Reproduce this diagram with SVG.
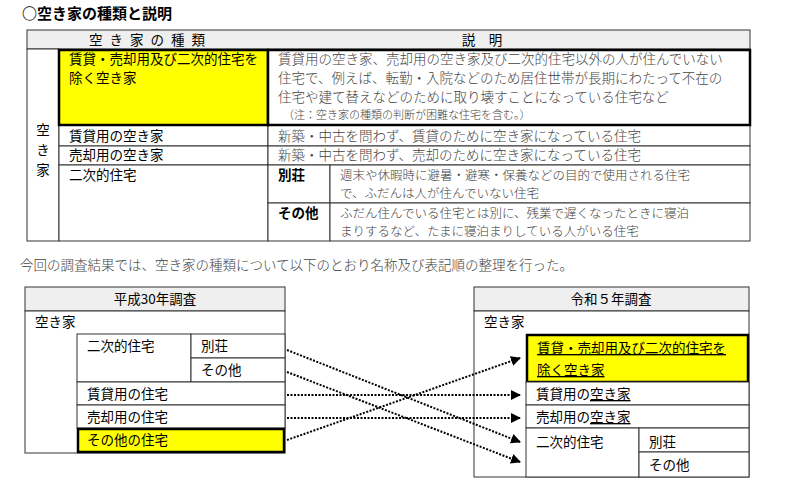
<svg xmlns="http://www.w3.org/2000/svg" width="800" height="479" viewBox="0 0 800 479">
<style>
text{font-family:"Noto Sans CJK JP",sans-serif;font-size:13.5px;fill:#000}
.d{fill:#444;font-weight:300}
.t{font-size:12.5px}
.s{font-size:11px}
.c{stroke:#333;stroke-width:1;fill:#fff}
.h{stroke:#333;stroke-width:1;fill:#efefef}
.y{stroke:#000;stroke-width:2.5;fill:#ff0}
.dot{stroke:#000;stroke-width:2;stroke-dasharray:2 1.5;fill:none}
.u{text-decoration:underline}
</style>
<defs><marker id="a" markerWidth="10" markerHeight="10" refX="9" refY="5" orient="auto" markerUnits="userSpaceOnUse"><path d="M0,0 L10,5 L0,10Z" fill="#000"/></marker></defs>
<text x="22" y="19" style="font-size:15px;font-weight:bold">○空き家の種類と説明</text>
<g id="top">
<rect class="h" x="27" y="30" width="723" height="19"/>
<text x="89" y="45" letter-spacing="7">空き家の種類</text>
<text x="482" y="45" text-anchor="middle">説　明</text>
<rect class="c" x="27" y="49" width="32" height="192"/>
<text x="43" y="135" text-anchor="middle">空</text><text x="43" y="155" text-anchor="middle">き</text><text x="43" y="175" text-anchor="middle">家</text>
<rect class="c" x="59" y="125" width="209" height="21"/><rect class="c" x="268" y="125" width="482" height="21"/>
<rect class="c" x="59" y="146" width="209" height="19"/><rect class="c" x="268" y="146" width="482" height="19"/>
<rect class="c" x="59" y="165" width="209" height="76"/>
<rect class="c" x="268" y="165" width="62" height="38"/><rect class="c" x="330" y="165" width="420" height="38"/>
<rect class="c" x="268" y="203" width="62" height="38"/><rect class="c" x="330" y="203" width="420" height="38"/>
<rect class="y" x="59" y="50" width="209" height="75"/>
<rect x="268" y="50" width="482" height="75" fill="#fff" stroke="#000" stroke-width="2.5"/>
<text x="69" y="64">賃貸・売却用及び二次的住宅を</text><text x="69" y="83">除く空き家</text>
<text class="d" x="278" y="64">賃貸用の空き家、売却用の空き家及び二次的住宅以外の人が住んでいない</text>
<text class="d" x="278" y="83">住宅で、例えば、転勤・入院などのため居住世帯が長期にわたって不在の</text>
<text class="d" x="278" y="102">住宅や建て替えなどのために取り壊すことになっている住宅など</text>
<text class="d s" x="283" y="119">（注：空き家の種類の判断が困難な住宅を含む。）</text>
<text x="69" y="141">賃貸用の空き家</text><text class="d" x="278" y="141">新築・中古を問わず、賃貸のために空き家になっている住宅</text>
<text x="69" y="160">売却用の空き家</text><text class="d" x="278" y="160">新築・中古を問わず、売却のために空き家になっている住宅</text>
<text x="69" y="180">二次的住宅</text>
<text x="278" y="180" font-weight="bold">別荘</text><text x="278" y="218" font-weight="bold">その他</text>
<text class="d t" x="340" y="180">週末や休暇時に避暑・避寒・保養などの目的で使用される住宅</text>
<text class="d t" x="340" y="198">で、ふだんは人が住んでいない住宅</text>
<text class="d t" x="340" y="218">ふだん住んでいる住宅とは別に、残業で遅くなったときに寝泊</text>
<text class="d t" x="340" y="236">まりするなど、たまに寝泊まりしている人がいる住宅</text>
</g>
<text class="d" x="20" y="270">今回の調査結果では、空き家の種類について以下のとおり名称及び表記順の整理を行った。</text>
<g id="h30">
<rect class="h" x="25" y="287" width="260" height="24"/><text x="155" y="304" text-anchor="middle">平成30年調査</text>
<rect class="c" x="25" y="311" width="260" height="142"/><text x="35" y="327">空き家</text>
<rect class="c" x="77" y="334" width="114" height="48"/><text x="87" y="351">二次的住宅</text>
<rect class="c" x="191" y="334" width="94" height="24"/><text x="201" y="351">別荘</text>
<rect class="c" x="191" y="358" width="94" height="24"/><text x="201" y="375">その他</text>
<rect class="c" x="77" y="382" width="208" height="23"/><text x="87" y="399">賃貸用の住宅</text>
<rect class="c" x="77" y="405" width="208" height="23"/><text x="87" y="422">売却用の住宅</text>
<rect class="y" x="78" y="429" width="206" height="23" stroke-width="2"/><text x="87" y="445">その他の住宅</text>
</g>
<g id="r5">
<rect class="h" x="474" y="287" width="275" height="24"/><text x="611" y="304" text-anchor="middle">令和５年調査</text>
<rect class="c" x="474" y="311" width="275" height="166"/><text x="484" y="327">空き家</text>
<rect class="y" x="527" y="335" width="221" height="47" stroke-width="2"/>
<text class="u" x="537" y="353">賃貸・売却用及び二次的住宅を</text><text class="u" x="537" y="375">除く空き家</text>
<rect class="c" x="526" y="382" width="223" height="23"/><text x="536" y="399">賃貸用の<tspan class="u">空き家</tspan></text>
<rect class="c" x="526" y="405" width="223" height="23"/><text x="536" y="422">売却用の<tspan class="u">空き家</tspan></text>
<rect class="c" x="526" y="428" width="113" height="49"/><text x="536" y="447">二次的住宅</text>
<rect class="c" x="639" y="428" width="110" height="24"/><text x="649" y="447">別荘</text>
<rect class="c" x="639" y="452" width="110" height="25"/><text x="649" y="470">その他</text>
</g>
<g id="connectors">
<path class="dot" d="M287,350 L520,442" marker-end="url(#a)"/>
<path class="dot" d="M287,372 L520,462" marker-end="url(#a)"/>
<path class="dot" d="M287,395 L520,395" marker-end="url(#a)"/>
<path class="dot" d="M287,418 L520,418" marker-end="url(#a)"/>
<path class="dot" d="M287,440 L520,358" marker-end="url(#a)"/>
</g>
</svg>
